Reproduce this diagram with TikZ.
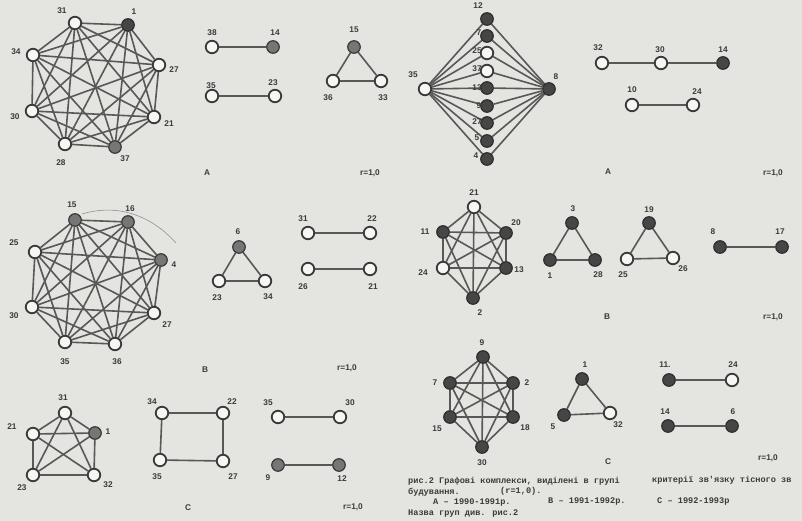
\documentclass[tikz,border=0pt]{standalone}
\usepackage{fontspec}
\setmainfont{Liberation Sans}
\newfontfamily\capfont{Liberation Mono}
\definecolor{paper}{RGB}{228,228,224}
\definecolor{ink}{RGB}{58,58,58}
\definecolor{edgec}{RGB}{88,88,88}
\definecolor{darkf}{RGB}{70,70,70}
\definecolor{greyf}{RGB}{118,118,118}
\definecolor{whitef}{RGB}{246,246,243}
\pgfdeclarelayer{paperlayer}
\pgfdeclarelayer{edgelayer}
\pgfdeclarelayer{lablayer}
\pgfsetlayers{paperlayer,edgelayer,main,lablayer}
\tikzset{
  wn/.style={circle,draw=ink,line width=1.8pt,fill=whitef,minimum size=12.5pt,inner sep=0pt},
  bn/.style={circle,draw=ink!80!black,line width=1.2pt,fill=darkf,minimum size=12.5pt,inner sep=0pt},
  gn/.style={circle,draw=ink,line width=1.2pt,fill=greyf,minimum size=12.5pt,inner sep=0pt},
  lab/.style={font=\fontsize{8.3}{9}\selectfont\bfseries,text=ink,inner sep=0pt},
  ed/.style={draw=edgec,line width=1.6pt},
  captxt/.style={font=\capfont\bfseries\fontsize{8.6}{10}\selectfont,text=ink,inner sep=0pt,anchor=west},
}
\newcommand\vx[5]{\node[#1] (#2) at (#3) {};\begin{pgfonlayer}{lablayer}\node[lab] (#2t) at (#4) {#5};\end{pgfonlayer}}
\newcommand\completeg[2]{\begin{pgfonlayer}{edgelayer}\foreach \i in {1,...,#2}{\foreach \j in {1,...,#2}{\ifnum\i<\j \draw[ed] (#1\i) -- (#1\j);\fi}}\end{pgfonlayer}}
\newcommand\edg[2]{\begin{pgfonlayer}{edgelayer}\draw[ed] (#1) -- (#2);\end{pgfonlayer}}
\begin{document}
\begin{tikzpicture}[x=1pt,y=-1pt]
\begin{pgfonlayer}{paperlayer}
\fill[paper] (0,0) rectangle (802,521);
\end{pgfonlayer}
\useasboundingbox (0,0) rectangle (802,521);

% ---------- left A : K8
\vx{wn}{a1}{75,23}{62,11}{31}
\vx{bn}{a2}{128,25}{134,12}{1}
\vx{wn}{a3}{159,65}{174,70}{27}
\vx{wn}{a4}{154,117}{169,124}{21}
\vx{gn}{a5}{115,147}{125,159}{37}
\vx{wn}{a6}{65,144}{61,163}{28}
\vx{wn}{a7}{32,111}{15,117}{30}
\vx{wn}{a8}{33,55}{16,52}{34}
\completeg{a}{8}

\vx{wn}{b1}{212,47}{212,33}{38}
\vx{gn}{b2}{273,47}{275,33}{14}
\vx{wn}{b3}{212,96}{211,86}{35}
\vx{wn}{b4}{275,96}{273,83}{23}
\edg{b1}{b2}\edg{b3}{b4}

\vx{gn}{c1}{354,47}{354,30}{15}
\vx{wn}{c2}{333,81}{328,98}{36}
\vx{wn}{c3}{381,81}{383,98}{33}
\completeg{c}{3}
\node[lab] (tA1) at (207,173) {A};
\node[lab] (rA1) at (370,173) {r=1,0};

% ---------- right A : diamond
\vx{wn}{d0}{425,89}{413,75}{35}
\vx{bn}{dz}{549,89}{556,77}{8}
\vx{bn}{d1}{487,19}{478,6}{12}
\vx{bn}{d2}{487,36}{479,33}{7}
\vx{wn}{d3}{487,53}{477,51}{25}
\vx{wn}{d4}{487,71}{477,69}{37}
\vx{bn}{d5}{487,88}{477,88}{13}
\vx{bn}{d6}{487,106}{479,106}{9}
\vx{bn}{d7}{487,123}{477,122}{27}
\vx{bn}{d8}{487,141}{477,138}{5}
\vx{bn}{d9}{487,159}{476,156}{4}
\begin{pgfonlayer}{edgelayer}
\foreach \i in {1,...,9}{\draw[ed] (d0) -- (d\i); \draw[ed] (dz) -- (d\i);}
\end{pgfonlayer}

\vx{wn}{e1}{602,63}{598,48}{32}
\vx{wn}{e2}{661,63}{660,50}{30}
\vx{bn}{e3}{723,63}{723,50}{14}
\vx{wn}{e4}{632,105}{632,90}{10}
\vx{wn}{e5}{693,105}{697,92}{24}
\edg{e1}{e2}\edg{e2}{e3}\edg{e4}{e5}
\node[lab] (tA2) at (608,172) {A};
\node[lab] (rA2) at (773,173) {r=1,0};

% ---------- left B : K8
\vx{gn}{f1}{75,220}{72,205}{15}
\vx{gn}{f2}{128,222}{130,209}{16}
\vx{gn}{f3}{161,260}{174,265}{4}
\vx{wn}{f4}{154,313}{167,325}{27}
\vx{wn}{f5}{115,344}{117,362}{36}
\vx{wn}{f6}{65,342}{65,362}{35}
\vx{wn}{f7}{32,307}{14,316}{30}
\vx{wn}{f8}{35,252}{14,243}{25}
\completeg{f}{8}
\draw[edgec!60!paper,line width=0.6pt] (82,214) .. controls (118,203) and (152,216) .. (176,243);

\vx{gn}{g1}{239,247}{238,232}{6}
\vx{wn}{g2}{219,281}{217,298}{23}
\vx{wn}{g3}{265,281}{268,297}{34}
\completeg{g}{3}

\vx{wn}{h1}{308,233}{303,219}{31}
\vx{wn}{h2}{370,233}{372,219}{22}
\vx{wn}{h3}{308,269}{303,287}{26}
\vx{wn}{h4}{370,269}{373,287}{21}
\edg{h1}{h2}\edg{h3}{h4}
\node[lab] (tB1) at (205,370) {B};
\node[lab] (rB1) at (347,368) {r=1,0};

% ---------- right B : K6
\vx{wn}{i1}{474,207}{474,193}{21}
\vx{bn}{i2}{506,233}{516,223}{20}
\vx{bn}{i3}{506,268}{519,270}{13}
\vx{bn}{i4}{473,298}{480,313}{2}
\vx{wn}{i5}{443,268}{423,273}{24}
\vx{bn}{i6}{443,232}{425,232}{11}
\completeg{i}{6}

\vx{bn}{j1}{572,223}{573,209}{3}
\vx{bn}{j2}{550,260}{550,276}{1}
\vx{bn}{j3}{595,260}{598,275}{28}
\completeg{j}{3}

\vx{bn}{k1}{649,223}{649,210}{19}
\vx{wn}{k2}{627,259}{623,275}{25}
\vx{wn}{k3}{673,258}{683,269}{26}
\completeg{k}{3}

\vx{bn}{l1}{720,247}{713,232}{8}
\vx{bn}{l2}{782,247}{780,232}{17}
\edg{l1}{l2}
\node[lab] (tB2) at (607,317) {B};
\node[lab] (rB2) at (773,317) {r=1,0};

% ---------- left C : K5
\vx{wn}{m1}{65,413}{63,398}{31}
\vx{gn}{m2}{95,433}{108,432}{1}
\vx{wn}{m3}{94,475}{108,485}{32}
\vx{wn}{m4}{33,475}{22,488}{23}
\vx{wn}{m5}{33,434}{12,427}{21}
\completeg{m}{5}

\vx{wn}{n1}{162,413}{152,402}{34}
\vx{wn}{n2}{223,413}{232,402}{22}
\vx{wn}{n3}{223,461}{233,477}{27}
\vx{wn}{n4}{160,460}{157,477}{35}
\edg{n1}{n2}\edg{n2}{n3}\edg{n3}{n4}\edg{n4}{n1}
\node[lab] (tC1) at (188,508) {C};

\vx{wn}{o1}{278,417}{268,403}{35}
\vx{wn}{o2}{340,417}{350,403}{30}
\vx{gn}{o3}{278,465}{268,478}{9}
\vx{gn}{o4}{339,465}{342,479}{12}
\edg{o1}{o2}\edg{o3}{o4}
\node[lab] (rC1) at (353,507) {r=1,0};

% ---------- right C : K6
\vx{bn}{p1}{483,357}{482,343}{9}
\vx{bn}{p2}{513,383}{527,383}{2}
\vx{bn}{p3}{513,417}{525,428}{18}
\vx{bn}{p4}{482,447}{482,463}{30}
\vx{bn}{p5}{450,417}{437,429}{15}
\vx{bn}{p6}{450,383}{435,383}{7}
\completeg{p}{6}

\vx{bn}{q1}{582,379}{585,365}{1}
\vx{bn}{q2}{564,415}{553,427}{5}
\vx{wn}{q3}{610,413}{618,425}{32}
\completeg{q}{3}

\vx{bn}{r1}{669,380}{665,365}{11.}
\vx{wn}{r2}{732,380}{733,365}{24}
\vx{bn}{r3}{668,426}{665,412}{14}
\vx{bn}{r4}{732,426}{733,412}{6}
\edg{r1}{r2}\edg{r3}{r4}
\node[lab] (tC2) at (608,462) {C};
\node[lab] (rC2) at (768,458) {r=1,0};

% ---------- caption
\node[captxt] (cap1) at (408,481) {рис.2 Графові комплекси, виділені в групі};
\node[captxt] (cap1b) at (652,480) {критерії зв'язку тісного зв};
\node[captxt] (cap2) at (408,492) {будування.};
\node[captxt] (cap2b) at (500,491) {(r=1,0).};
\node[captxt] (cap3) at (433,503) {А – 1990-1991р.};
\node[captxt] (cap3b) at (548,502) {В – 1991-1992р.};
\node[captxt] (cap3c) at (657,502) {С – 1992-1993р};
\node[captxt] (cap4) at (408,514) {Назва груп див. рис.2};
\end{tikzpicture}
\end{document}
